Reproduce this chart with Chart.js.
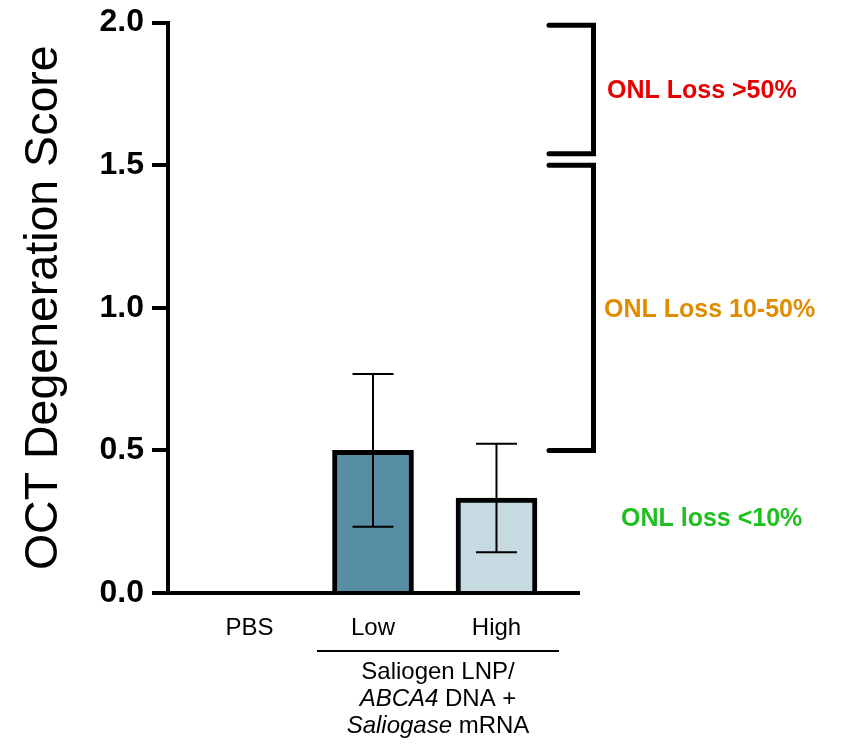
<!DOCTYPE html>
<html>
<head>
<meta charset="utf-8">
<script src="https://cdn.jsdelivr.net/npm/chart.js@4.4.1/dist/chart.umd.min.js"></script>
<style>
  html, body { margin: 0; padding: 0; background: #fff; }
  #chart { display: block; }
</style>
</head>
<body>
<canvas id="chart" width="845" height="746"></canvas>
<script>
// --- data ---
const categories = ['PBS', 'Low', 'High'];
const xPos = [0, 1, 2];
const scores = [0, 0.5, 0.333];
const sdValues = [0, 0.268, 0.19];
const barColors = ['#ffffff', '#578ea6', '#c8dae1'];
const yTicks = [0, 0.5, 1.0, 1.5, 2.0];

// ONL loss bands (score ranges) and their labels
const bandTop = [1.99, 1.5];
const bandBottom = [1.54, 0.5];
const bandLabels = ['ONL Loss >50%', 'ONL Loss 10-50%', 'ONL loss <10%'];
const bandLabelValues = [1.76, 0.99, 0.26];
const bandLabelColors = ['#e80000', '#e08c00', '#1fbf1f'];

const FONT = "'Liberation Sans', Arial, Helvetica, sans-serif";

function richLine(ctx, parts, cx, cy) {
  const widths = parts.map(([t, it]) => {
    ctx.font = (it ? 'italic ' : '') + '24px ' + FONT;
    return ctx.measureText(t).width;
  });
  let xx = cx - widths.reduce((a, b) => a + b, 0) / 2;
  parts.forEach(([t, it], i) => {
    ctx.font = (it ? 'italic ' : '') + '24px ' + FONT;
    ctx.fillText(t, xx, cy);
    xx += widths[i];
  });
}

const annotations = {
  id: 'annotations',
  afterDatasetsDraw(chart) {
    const { ctx, scales: { x, y } } = chart;
    ctx.save();
    // error bars
    ctx.strokeStyle = '#000';
    ctx.lineWidth = 2;
    xPos.forEach((v, i) => {
      if (!sdValues[i]) return;
      const cx = x.getPixelForValue(v);
      const top = y.getPixelForValue(scores[i] + sdValues[i]);
      const bot = y.getPixelForValue(scores[i] - sdValues[i]);
      ctx.beginPath();
      ctx.moveTo(cx, top); ctx.lineTo(cx, bot);
      ctx.moveTo(cx - 20.5, top); ctx.lineTo(cx + 20.5, top);
      ctx.moveTo(cx - 20.5, bot); ctx.lineTo(cx + 20.5, bot);
      ctx.stroke();
    });
    ctx.restore();
  },
  afterDraw(chart) {
    const { ctx, scales: { y } } = chart;
    ctx.save();
    // brackets on the right
    ctx.strokeStyle = '#000';
    ctx.lineWidth = 5;
    ctx.lineCap = 'round';
    ctx.lineJoin = 'miter';
    bandTop.forEach((t, i) => {
      const y1 = y.getPixelForValue(t);
      const y2 = y.getPixelForValue(bandBottom[i]);
      ctx.beginPath();
      ctx.moveTo(549, y1);
      ctx.lineTo(593.5, y1);
      ctx.lineTo(593.5, y2);
      ctx.lineTo(549, y2);
      ctx.stroke();
    });
    // band labels
    ctx.font = 'bold 25px ' + FONT;
    ctx.textBaseline = 'middle';
    ctx.textAlign = 'left';
    const labelX = [607, 604, 621];
    bandLabels.forEach((t, i) => {
      ctx.fillStyle = bandLabelColors[i];
      ctx.fillText(t, labelX[i], y.getPixelForValue(bandLabelValues[i]));
    });
    // group label under Low / High
    ctx.strokeStyle = '#000';
    ctx.lineWidth = 2;
    ctx.lineCap = 'butt';
    ctx.beginPath();
    ctx.moveTo(317, 651);
    ctx.lineTo(559, 651);
    ctx.stroke();
    ctx.fillStyle = '#000';
    richLine(ctx, [['Saliogen LNP/', false]], 438, 672);
    richLine(ctx, [['ABCA4', true], [' DNA +', false]], 438, 699);
    richLine(ctx, [['Saliogase', true], [' mRNA', false]], 438, 726);
    ctx.restore();
  }
};

new Chart(document.getElementById('chart'), {
  type: 'bar',
  data: {
    datasets: [{
      data: xPos.map((v, i) => ({ x: v, y: scores[i] })),
      backgroundColor: barColors,
      borderColor: '#000',
      borderWidth: 5,
      barThickness: 81
    }]
  },
  options: {
    responsive: false,
    animation: false,
    devicePixelRatio: 1,
    layout: { padding: { left: 0, right: 267, top: 22.5, bottom: 0 } },
    plugins: { legend: { display: false }, tooltip: { enabled: false } },
    scales: {
      x: {
        type: 'linear',
        offset: false,
        min: -0.66,
        max: 2.66,
        z: 1,
        afterBuildTicks: s => { s.ticks = xPos.map(v => ({ value: v })); },
        afterFit: s => { s.height = 153; s.paddingLeft = 0; s.paddingRight = 0; },
        ticks: {
          callback: v => categories[v],
          color: '#000',
          padding: 21,
          maxRotation: 0,
          font: { family: FONT, size: 24 }
        },
        grid: { display: true, drawOnChartArea: false, drawTicks: false, lineWidth: 4, color: '#000' },
        border: { display: true, width: 4, color: '#000' }
      },
      y: {
        min: 0,
        max: 2,
        afterBuildTicks: s => { s.ticks = yTicks.map(v => ({ value: v })); },
        afterFit: s => { s.width = 168; s.paddingTop = 0; s.paddingBottom = 0; },
        ticks: {
          callback: v => v.toFixed(1),
          color: '#000',
          padding: 8,
          font: { family: FONT, size: 32, weight: 'bold' }
        },
        grid: { display: true, drawOnChartArea: false, drawTicks: true, tickLength: 16, lineWidth: 4, color: '#000' },
        border: { display: true, width: 4, color: '#000' },
        title: {
          display: true,
          text: 'OCT Degeneration Score',
          color: '#000',
          padding: { top: 16, bottom: 0 },
          font: { family: FONT, size: 46.5 }
        }
      }
    }
  },
  plugins: [annotations]
});
</script>
</body>
</html>
